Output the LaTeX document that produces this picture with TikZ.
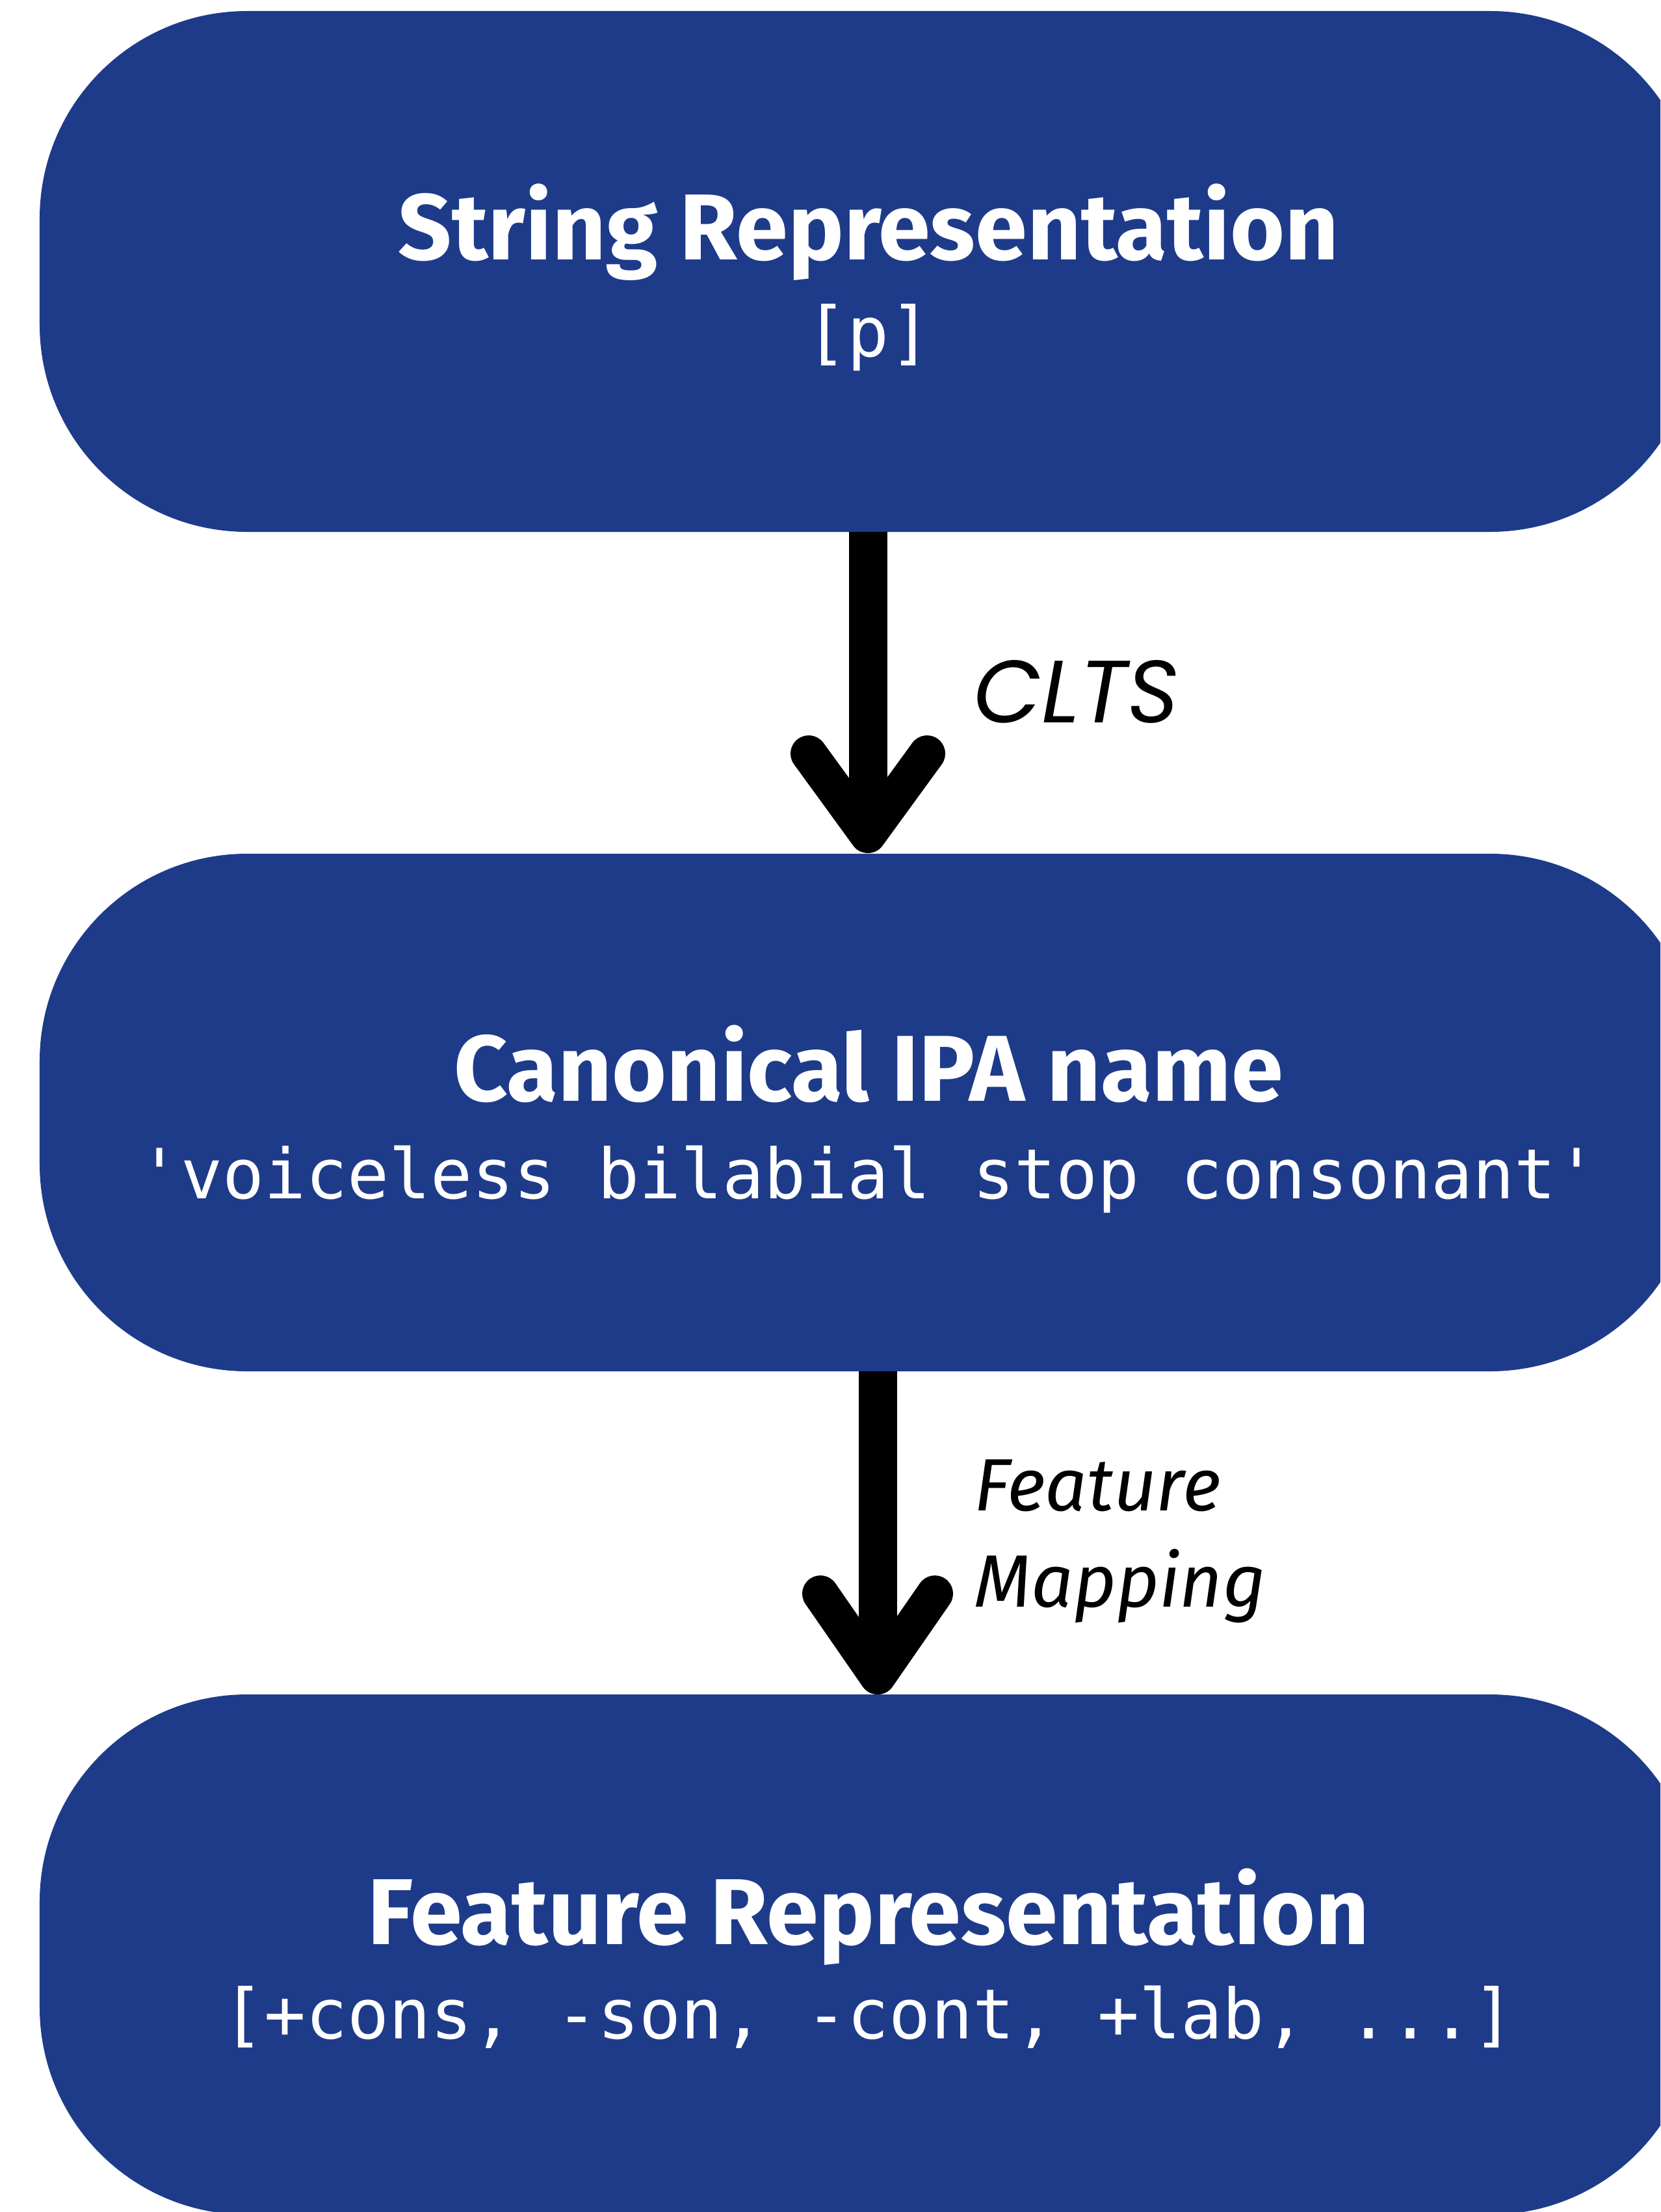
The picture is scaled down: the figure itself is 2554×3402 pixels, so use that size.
\documentclass[tikz,border=0pt]{standalone}
\usepackage{fontspec}
\setmainfont{Fira Sans}
\setmonofont{DejaVu Sans Mono}
\newfontfamily\geofont{Poppins}
\definecolor{boxblue}{HTML}{1E3B8A}
\tikzset{
  pill/.style={rectangle, fill=boxblue, rounded corners=319bp, minimum width=2550bp, inner sep=0pt},
  titletext/.style={anchor=base, inner sep=0pt, text=white, font=\fontsize{144bp}{170bp}\selectfont\bfseries},
  monotext/.style={anchor=base, inner sep=0pt, text=white, font=\fontsize{106.5bp}{126bp}\selectfont\ttfamily},
  shaft/.style={line width=59bp, black, line cap=butt},
  chevron/.style={line width=56bp, black, line cap=round, line join=round},
  lbl/.style={anchor=base west, inner sep=0pt, text=black}
}
\begin{document}
\begin{tikzpicture}[x=1bp, y=-1bp]
\useasboundingbox (0,0) rectangle (2554,3402);
\clip (0,0) rectangle (2554,3402);
% boxes
\node[pill, minimum height=801bp] (b1) at (1336,417.5) {};
\node[pill, minimum height=796bp] (b2) at (1336,1711) {};
\node[pill, minimum height=800bp] (b3) at (1336,3006) {};
% texts
\node[titletext] (h1) at (1336,399) {String Representation};
\node[monotext] (m1) at (1336,548) {[p]};
\node[titletext] (h2) at (1336,1693) {Canonical IPA name};
\node[monotext] (m2) at (1336,1843) {'voiceless bilabial stop consonant'};
\node[titletext] (h3) at (1336,2990) {Feature Representation};
\node[monotext] (m3) at (1336,3135) {[+cons, -son, -cont, +lab, ...]};
% arrow 1
\coordinate (t1) at (1335,1284);
\coordinate (l1) at (1244,1159);
\coordinate (r1) at (1426,1159);
\draw[shaft] (b1.south -| t1) -- (t1);
\draw[chevron] (l1) -- (t1) -- (r1);
% arrow 2
\coordinate (t2) at (1350,2578);
\coordinate (l2) at (1262,2451);
\coordinate (r2) at (1438,2451);
\draw[shaft] (b2.south -| t2) -- (t2);
\draw[chevron] (l2) -- (t2) -- (r2);
% labels
\node[lbl, font=\fontsize{136bp}{160bp}\selectfont\geofont\itshape] (c1) at (1497,1111) {CLTS};
\node[lbl, font=\fontsize{114bp}{130bp}\selectfont\itshape] (f1) at (1498,2323) {Feature};
\node[lbl, font=\fontsize{114bp}{130bp}\selectfont\itshape] (f2) at (1498,2471) {Mapping};
\end{tikzpicture}
\end{document}
